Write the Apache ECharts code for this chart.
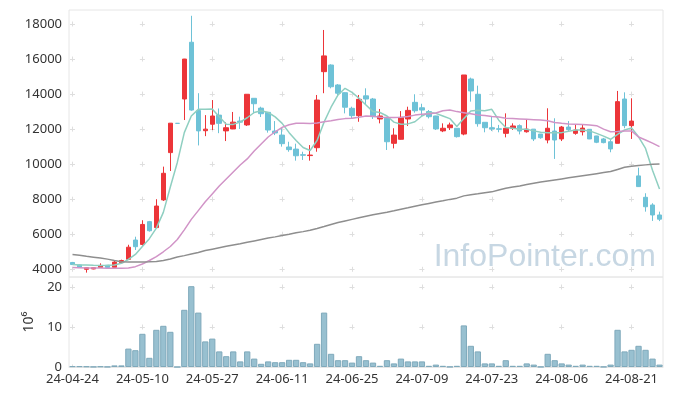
<!DOCTYPE html>
<html><head><meta charset="utf-8">
<script src="https://cdn.jsdelivr.net/npm/echarts@6/dist/echarts.min.js"></script>
<style>html,body{margin:0;padding:0;background:#fff}#c{width:673px;height:396px}</style>
</head><body><div id="c"></div>
<script>
const dates = ['2024-04-24','2024-04-25','2024-04-26','2024-04-29','2024-04-30','2024-05-02','2024-05-03','2024-05-07','2024-05-08','2024-05-09',
'2024-05-10','2024-05-13','2024-05-14','2024-05-16','2024-05-17','2024-05-20','2024-05-21','2024-05-22','2024-05-23','2024-05-24',
'2024-05-27','2024-05-28','2024-05-29','2024-05-30','2024-05-31','2024-06-03','2024-06-04','2024-06-05','2024-06-07','2024-06-10',
'2024-06-11','2024-06-12','2024-06-13','2024-06-14','2024-06-17','2024-06-18','2024-06-19','2024-06-20','2024-06-21','2024-06-24',
'2024-06-25','2024-06-26','2024-06-27','2024-06-28','2024-07-01','2024-07-02','2024-07-03','2024-07-04','2024-07-05','2024-07-08',
'2024-07-09','2024-07-10','2024-07-11','2024-07-12','2024-07-15','2024-07-16','2024-07-17','2024-07-18','2024-07-19','2024-07-22',
'2024-07-23','2024-07-24','2024-07-25','2024-07-26','2024-07-29','2024-07-30','2024-07-31','2024-08-01','2024-08-02','2024-08-05',
'2024-08-06','2024-08-07','2024-08-08','2024-08-09','2024-08-12','2024-08-13','2024-08-14','2024-08-16','2024-08-19','2024-08-20',
'2024-08-21','2024-08-22','2024-08-23','2024-08-26','2024-08-27'];

const opens = [4390,4250,4000,4020,4100,4230,4110,4380,4570,5670,
5420,6720,6380,7960,10660,12330,13720,16960,13060,11910,
12280,12800,11900,12010,12460,12240,13760,13200,12960,11890,
11660,10980,10860,10540,10490,10940,15280,15660,14520,14080,
13190,12770,13900,13720,12580,12620,11190,11420,12580,13530,
13220,13000,12750,11900,12080,12050,11720,14860,13990,12390,
12080,12020,11760,12050,12200,11850,12000,11720,11380,11890,
11440,12120,11760,11850,11990,11610,11440,11280,11190,13720,
12200,9330,8110,7670,7100];
const closes = [4270,4100,4090,4090,4220,4100,4410,4500,5260,5290,
6560,6200,7610,9480,12340,12330,16000,13090,11900,12000,
12750,12330,12080,12400,12400,13990,13450,12880,11950,11780,
11170,10830,10480,10510,10520,13660,16180,14420,14050,13250,
12770,13700,13720,12710,12750,11280,11660,12670,13070,13050,
13090,12710,12010,12050,12240,11570,15090,14180,12310,12080,
12010,11990,12050,12180,11890,12000,11440,11510,12050,11380,
12120,11970,11950,12060,11440,11250,11230,10870,13570,12200,
12460,8720,7570,7100,6860];
const lows = [4250,4080,3810,4000,4080,4080,4100,4360,4530,5100,
5350,6150,6350,7900,9610,12330,12520,13050,11070,11600,
11950,11770,11320,12000,12010,12180,12900,12690,11800,11660,
11000,10710,10200,10240,10200,10710,14050,14330,13870,12900,
12610,12420,13380,12580,12330,10810,10900,11400,12180,12940,
12710,12610,11950,11830,11950,11520,11650,13570,12140,11820,
11890,11820,11530,11950,11700,11800,11320,11450,11190,10300,
11320,11890,11680,11640,11430,11200,11190,10680,11190,12050,
11440,8700,7290,6760,6750];
const highs = [4420,4270,4100,4110,4340,4240,4530,4550,5400,5860,
6800,6760,8000,9860,12350,12330,16010,18470,14050,12800,
13660,13180,12390,12980,12710,14000,13770,13280,12970,12460,
12060,11280,11170,10710,11090,13950,17660,15700,14570,14100,
13280,13950,14330,13780,13150,12640,12050,13030,13280,13990,
13450,13090,12760,12330,12370,12050,15090,14940,14480,12390,
12710,12240,12900,12330,12270,12580,12000,11720,13190,12620,
12180,12460,12270,12270,12000,11620,11500,11380,14180,14100,
13760,9800,8340,7770,7290];

const ma5 = [4280,4245,4240,4225,4220,4230,4250,4340,4560,4850,
5300,5750,6350,7250,8700,10100,11800,12750,13130,13130,
13150,12710,12280,12270,12400,12650,12950,13050,12950,12700,
12330,11800,11350,10950,10780,11350,12400,13250,13950,14330,
14100,13760,13380,13000,12950,12750,12400,12280,12300,12420,
12750,12950,12900,12750,12600,12150,12600,13030,13080,13050,
13130,12510,12090,12050,12000,11990,11900,11820,11800,11800,
11800,11880,11950,11950,11900,11760,11600,11420,11700,11950,
12060,11560,10900,9650,8580];
const ma20 = [4100,4090,4080,4075,4070,4065,4060,4060,4080,4150,
4300,4500,4720,5000,5300,5700,6250,6850,7350,7850,
8300,8750,9150,9550,9950,10300,10750,11150,11550,11850,
12100,12250,12330,12330,12320,12350,12420,12480,12550,12600,
12620,12680,12750,12730,12680,12660,12670,12680,12720,12800,
12850,12880,12920,13050,13090,13000,12940,12880,12810,12780,
12720,12690,12620,12600,12580,12560,12540,12520,12480,12380,
12330,12300,12280,12260,12240,12200,12000,11850,11870,11900,
11900,11550,11380,11200,11000];
const ma120 = [4850,4800,4740,4690,4640,4580,4500,4430,4420,4420,
4420,4430,4450,4500,4590,4700,4780,4870,4960,5070,
5150,5230,5310,5390,5460,5540,5620,5700,5780,5850,
5930,6000,6080,6150,6230,6330,6440,6560,6670,6760,
6850,6940,7030,7110,7190,7260,7340,7430,7510,7600,
7680,7760,7840,7910,7990,8060,8190,8260,8310,8370,
8420,8530,8630,8700,8760,8840,8910,8980,9040,9100,
9160,9220,9280,9340,9400,9460,9520,9580,9700,9820,
9880,9930,9960,9990,10010];

const volumes = [0.2,0.2,0.15,0.05,0.15,0.05,0.4,0.4,4.6,4.2,
8.3,2.3,9.3,10.3,8.8,0,14.3,20.2,13.6,6.4,
7.1,3.9,2.7,3.9,1.4,3.9,2.1,0.8,1.4,1.2,
1.2,1.8,1.8,1.2,0.9,5.8,13.6,3.3,1.7,1.7,
1.1,2.7,1.7,1.1,0.3,1.7,0.9,2.1,1.4,1.4,
1.4,0.3,0.6,0.3,0.05,0.3,10.4,5.3,3.9,0.9,
0.9,0.3,1.7,0.3,0.3,0.9,0.6,0.05,3.3,1.7,
0.9,0.6,0.3,0.6,0.3,0.3,0.05,0.6,9.3,3.9,
4.3,5.3,4.3,2.1,0.6];

const priceTicks = [4000,6000,8000,10000,12000,14000,16000,18000];
const volumeTicks = [0,10,20];

const candleData = dates.map((d,i)=>[opens[i],closes[i],lows[i],highs[i]]);
const font = "'Noto Sans', sans-serif";
const crossColor = '#dedede';
const borderColor = '#e6e6e6';
const labelStyle = {color:'#333', fontSize:13, fontFamily:font};

const chart = echarts.init(document.getElementById('c'), null, {renderer:'canvas'});
chart.setOption({
  animation:false,
  backgroundColor:'#ffffff',
  grid:[
    {left:69, right:10, top:10, height:267, show:true, borderColor:borderColor, borderWidth:1, backgroundColor:'transparent'},
    {left:69, right:10, top:277, height:90, show:true, borderColor:borderColor, borderWidth:1, backgroundColor:'transparent'}
  ],
  graphic:[{type:'text', right:17, top:241, z:0, silent:true,
    style:{text:'InfoPointer.com', font:'32px "Liberation Sans", Arial, sans-serif', fill:'#c7d7e3'}}],
  xAxis:[
    {type:'category', gridIndex:0, data:dates, boundaryGap:true,
     axisLine:{show:false}, axisTick:{show:false}, axisLabel:{show:false},
     splitLine:{show:true, interval:9, alignWithLabel:true,
       lineStyle:{color:crossColor, width:1, type:[5,30.04], dashOffset:23.54}}},
    {type:'category', gridIndex:1, data:dates, boundaryGap:true,
     axisLine:{show:true, lineStyle:{color:borderColor}}, axisTick:{show:false},
     axisLabel:Object.assign({interval:9, margin:6, formatter:v=>v.slice(2)}, labelStyle),
     splitLine:{show:true, interval:9, alignWithLabel:true,
       lineStyle:{color:crossColor, width:1, type:[5,35], dashOffset:32.5}}}
  ],
  yAxis:[
    {type:'value', gridIndex:0, min:3560, max:18800, scale:true,
     axisLine:{show:false}, axisTick:{show:false, customValues:priceTicks},
     axisLabel:Object.assign({customValues:priceTicks, margin:7, formatter:v=>String(v)}, labelStyle),
     splitLine:{show:true, lineStyle:{color:crossColor, width:1, type:[5,64.88], dashOffset:68.89}}},
    {type:'value', gridIndex:1, min:0, max:22.5,
     name:'10\u2076', nameLocation:'middle', nameRotate:90, nameGap:30,
     nameTextStyle:{color:'#333', fontSize:14, fontFamily:font},
     axisLine:{show:false}, axisTick:{show:false, customValues:volumeTicks},
     axisLabel:Object.assign({customValues:volumeTicks, margin:7, formatter:v=>String(v)}, labelStyle),
     splitLine:{show:true, lineStyle:{color:crossColor, width:1, type:[5,64.88], dashOffset:68.89}}}
  ],
  series:[
    {type:'candlestick', name:'price', xAxisIndex:0, yAxisIndex:0, data:candleData, barWidth:5,
     itemStyle:{color:'#ec3539', color0:'#6ec2d7', borderColor:'#ec3539', borderColor0:'#6ec2d7', borderWidth:1}},
    {type:'line', name:'MA5', xAxisIndex:0, yAxisIndex:0, data:ma5, symbol:'none',
     lineStyle:{color:'#8fcfc1', width:1.5}},
    {type:'line', name:'MA20', xAxisIndex:0, yAxisIndex:0, data:ma20, symbol:'none',
     lineStyle:{color:'#d194c7', width:1.5}},
    {type:'line', name:'MA120', xAxisIndex:0, yAxisIndex:0, data:ma120, symbol:'none',
     lineStyle:{color:'#8e8e8e', width:1.5}},
    {type:'bar', name:'volume', xAxisIndex:1, yAxisIndex:1, data:volumes, barWidth:'90%',
     itemStyle:{color:'#98c0d0', borderColor:'#7fa9bb', borderWidth:1}}
  ]
});
</script>
</body></html>
